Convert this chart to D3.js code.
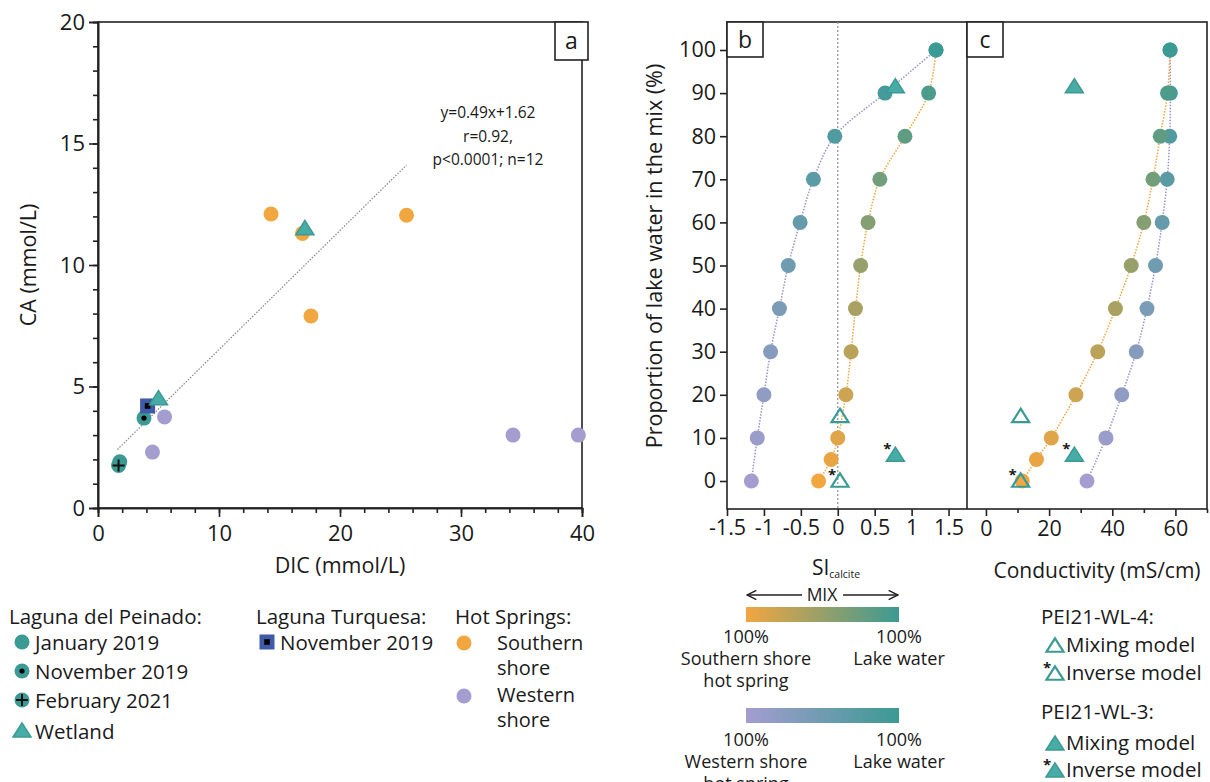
<!DOCTYPE html>
<html>
<head>
<meta charset="utf-8">
<script src="https://cdn.jsdelivr.net/npm/d3@7"></script>
<style>
    body { margin: 0; background: #fff; }
    text { font-family: "Open Sans", "Noto Sans", sans-serif; fill: #1a1a1a; }
    .axis path, .axis line { stroke: #222; stroke-width: 1.6; }
    .axis text { font-size: 21px; font-family: "Open Sans", sans-serif; fill: #1a1a1a; }
</style>
</head>
<body>
<svg id="chart" width="1210" height="782"></svg>
<script>
    // colours of the two end members and the lake
    var LAKE = '#3b9a93';
    var SOUTH = '#f2a640';
    var WEST = '#a49dcf';
    var TRI_FILL = '#47aca5';

    // panel a: DIC vs CA (mmol/L)
    var janDIC = [1.8], janCA = [1.9];
    var novDIC = [3.8], novCA = [3.7];
    var febDIC = [1.7], febCA = [1.75];
    var wetlandDIC = [5.0, 17.1], wetlandCA = [4.5, 11.5];
    var turquesaDIC = [4.1], turquesaCA = [4.2];
    var southDIC = [14.3, 16.9, 25.5, 17.6], southCA = [12.1, 11.3, 12.05, 7.9];
    var westDIC = [5.5, 4.5, 34.3, 39.7], westCA = [3.75, 2.3, 3.0, 3.0];
    var fitSlope = 0.49, fitIntercept = 1.62, fitRange = [1.6, 25.5];
    var fitLabels = ['y=0.49x+1.62', 'r=0.92,', 'p<0.0001; n=12'];

    // panels b and c: mixing models
    var southMix = [0, 5, 10, 20, 30, 40, 50, 60, 70, 80, 90, 100];
    var southSI = [-0.26, -0.09, 0.0, 0.11, 0.18, 0.24, 0.31, 0.41, 0.57, 0.91, 1.23, 1.33];
    var southCond = [11.5, 16, 20.7, 28.5, 35.4, 41, 46, 50, 52.9, 55.2, 57.5, 58.3];
    var westMix = [0, 10, 20, 30, 40, 50, 60, 70, 80, 90, 100];
    var westSI = [-1.17, -1.09, -1.0, -0.91, -0.79, -0.67, -0.51, -0.33, -0.04, 0.64, 1.33];
    var westCond = [32, 38, 43, 47.6, 51, 53.7, 55.8, 57.4, 58.2, 58.4, 58.3];

    // PEI21-WL-4 (open) and PEI21-WL-3 (filled) triangles
    var wl4Mix = [15, 0], wl4SI = [0.03, 0.03], wl4Cond = [11, 11], wl4Inverse = [false, true];
    var wl3Mix = [91.5, 6], wl3SI = [0.78, 0.78], wl3Cond = [28, 28], wl3Inverse = [false, true];

    var xTicksA = [0, 10, 20, 30, 40], yTicksA = [0, 5, 10, 15, 20];
    var xTicksB = [-1.5, -1, -0.5, 0, 0.5, 1, 1.5];
    var xTicksC = [0, 20, 40, 60];
    var yTicksMix = [0, 10, 20, 30, 40, 50, 60, 70, 80, 90, 100];

    var svg = d3.select('#chart');
    svg.append('rect').attr('width', 1210).attr('height', 782).attr('fill', '#fff');

    var R = 7.5;

    var triPath = function(s) {
        var h = s * 0.9;
        return 'M0,' + (-h) + 'L' + s + ',' + (h * 0.75) + 'L' + (-s) + ',' + (h * 0.75) + 'Z';
    };

    // little marker painter used by the plots and the legend
    var marker = function(g, kind, x, y) {
        if (kind === 'jan' || kind === 'nov' || kind === 'feb') {
            g.append('circle').attr('cx', x).attr('cy', y).attr('r', R).attr('fill', LAKE);
            if (kind === 'nov') {
                g.append('circle').attr('cx', x).attr('cy', y).attr('r', 2.6).attr('fill', '#000');
            }
            if (kind === 'feb') {
                g.append('path').attr('d', 'M' + (x - 6) + ',' + y + 'H' + (x + 6) + 'M' + x + ',' + (y - 6) + 'V' + (y + 6))
                    .attr('stroke', '#111').attr('stroke-width', 2);
            }
        } else if (kind === 'square') {
            g.append('rect').attr('x', x - 7.5).attr('y', y - 7.5).attr('width', 15).attr('height', 15).attr('fill', '#3f5ba8');
            g.append('rect').attr('x', x - 2.8).attr('y', y - 2.8).attr('width', 5.6).attr('height', 5.6).attr('fill', '#000');
        } else if (kind === 'tri') {
            g.append('path').attr('d', triPath(9)).attr('transform', 'translate(' + x + ',' + y + ')')
                .attr('fill', TRI_FILL).attr('stroke', LAKE).attr('stroke-width', 1.5);
        } else if (kind === 'open') {
            g.append('path').attr('d', triPath(8.5)).attr('transform', 'translate(' + x + ',' + y + ')')
                .attr('fill', 'none').attr('stroke', LAKE).attr('stroke-width', 2.2);
        } else {
            g.append('circle').attr('cx', x).attr('cy', y).attr('r', R).attr('fill', kind);
        }
    };

    var star = function(g, x, y) {
        g.append('text').attr('x', x).attr('y', y).attr('text-anchor', 'middle')
            .style('font-size', '15px').style('font-weight', 'bold').text('*');
    };

    var labelBox = function(x0, y0, w, h, txt) {
        svg.append('rect').attr('x', x0).attr('y', y0).attr('width', w).attr('height', h)
            .attr('fill', '#fff').attr('stroke', '#222').attr('stroke-width', 1.6);
        svg.append('text').attr('x', x0 + w / 2).attr('y', y0 + h / 2 + 8).attr('text-anchor', 'middle')
            .style('font-size', '23px').text(txt);
    };

    // ---------------- panel a ----------------
    var xA = d3.scaleLinear().domain([0, 40]).range([98, 582]);
    var yA = d3.scaleLinear().domain([0, 20]).range([508, 22]);

    svg.append('rect').attr('x', 98).attr('y', 22).attr('width', 484).attr('height', 486)
        .attr('fill', 'none').attr('stroke', '#222').attr('stroke-width', 1.6);

    svg.append('g').attr('class', 'axis').attr('transform', 'translate(0,508)')
        .call(d3.axisBottom(xA).tickValues(d3.range(0, 41, 2)).tickSize(5).tickFormat(''));
    svg.append('g').attr('class', 'axis').attr('transform', 'translate(0,508)')
        .call(d3.axisBottom(xA).tickValues(xTicksA).tickSize(9).tickPadding(8).tickFormat(d3.format('d')));
    svg.append('g').attr('class', 'axis').attr('transform', 'translate(98,0)')
        .call(d3.axisLeft(yA).tickValues(d3.range(0, 21, 1)).tickSize(5).tickFormat(''));
    svg.append('g').attr('class', 'axis').attr('transform', 'translate(98,0)')
        .call(d3.axisLeft(yA).tickValues(yTicksA).tickSize(9).tickPadding(4).tickFormat(d3.format('d')));
    svg.selectAll('.axis text').style('font-size', '22px');

    svg.append('line')
        .attr('x1', xA(fitRange[0])).attr('y1', yA(fitSlope * fitRange[0] + fitIntercept))
        .attr('x2', xA(fitRange[1])).attr('y2', yA(fitSlope * fitRange[1] + fitIntercept))
        .attr('stroke', '#888').attr('stroke-width', 1.2).attr('stroke-dasharray', '1.5,1.5');

    fitLabels.forEach(function(t, i) {
        svg.append('text').attr('x', 488).attr('y', 118 + i * 23.5).attr('text-anchor', 'middle')
            .style('font-size', '15.5px').text(t);
    });

    var gA = svg.append('g');
    westDIC.forEach(function(d, i) { marker(gA, WEST, xA(d), yA(westCA[i])); });
    southDIC.forEach(function(d, i) { marker(gA, SOUTH, xA(d), yA(southCA[i])); });
    janDIC.forEach(function(d, i) { marker(gA, 'jan', xA(d), yA(janCA[i])); });
    febDIC.forEach(function(d, i) { marker(gA, 'feb', xA(d), yA(febCA[i])); });
    novDIC.forEach(function(d, i) { marker(gA, 'nov', xA(d), yA(novCA[i])); });
    turquesaDIC.forEach(function(d, i) { marker(gA, 'square', xA(d), yA(turquesaCA[i])); });
    wetlandDIC.forEach(function(d, i) { marker(gA, 'tri', xA(d), yA(wetlandCA[i])); });

    labelBox(555, 22, 33, 38, 'a');

    svg.append('text').attr('x', 340).attr('y', 573).attr('text-anchor', 'middle')
        .style('font-size', '21.5px').text('DIC (mmol/L)');
    svg.append('text').attr('transform', 'translate(36,265) rotate(-90)').attr('text-anchor', 'middle')
        .style('font-size', '21.5px').text('CA (mmol/L)');

    // ---------------- panels b and c ----------------
    var yMix = d3.scaleLinear().domain([0, 100]).range([481, 50]);
    var xB = d3.scaleLinear().domain([-1.5, 1.75]).range([727, 967]);
    var xC = d3.scaleLinear().domain([-6, 70]).range([967, 1207]);

    svg.append('rect').attr('x', 727).attr('y', 22).attr('width', 480).attr('height', 487)
        .attr('fill', 'none').attr('stroke', '#222').attr('stroke-width', 1.6);
    svg.append('line').attr('x1', 967).attr('x2', 967).attr('y1', 22).attr('y2', 509)
        .attr('stroke', '#222').attr('stroke-width', 1.6);

    svg.append('line').attr('x1', xB(0)).attr('x2', xB(0)).attr('y1', 22).attr('y2', 509)
        .attr('stroke', '#999').attr('stroke-width', 1.3).attr('stroke-dasharray', '2,2');

    svg.append('g').attr('class', 'axis axB').attr('transform', 'translate(0,509)')
        .call(d3.axisBottom(xB).tickValues(xTicksB).tickSize(7).tickPadding(4).tickFormat(function(d) { return String(d); }));
    svg.append('g').attr('class', 'axis axC').attr('transform', 'translate(0,509)')
        .call(d3.axisBottom(xC).tickValues([10, 30, 50, 70]).tickSize(4).tickFormat(''));
    svg.append('g').attr('class', 'axis axC').attr('transform', 'translate(0,509)')
        .call(d3.axisBottom(xC).tickValues(xTicksC).tickSize(7).tickPadding(5).tickFormat(d3.format('d')));
    svg.append('g').attr('class', 'axis axY').attr('transform', 'translate(727,0)')
        .call(d3.axisLeft(yMix).tickValues(yTicksMix).tickSize(7).tickPadding(4).tickFormat(d3.format('d')));
    svg.selectAll('.axB text, .axC text, .axY text').style('font-size', '21.5px');
    svg.selectAll('.axB path, .axC path, .axY path').remove();

    var mixLine = function(xs) {
        return d3.line().curve(d3.curveCatmullRom.alpha(0.5))
            .x(function(d) { return xs(d[0]); })
            .y(function(d) { return yMix(d[1]); });
    };

    var drawMix = function(g, xs, westVals, southVals) {
        g.append('path').attr('d', mixLine(xs)(d3.zip(westVals, westMix)))
            .attr('fill', 'none').attr('stroke', '#9a93c6').attr('stroke-width', 1.5).attr('stroke-dasharray', '1.5,1.5');
        g.append('path').attr('d', mixLine(xs)(d3.zip(southVals, southMix)))
            .attr('fill', 'none').attr('stroke', '#f0a640').attr('stroke-width', 1.5).attr('stroke-dasharray', '1.5,1.5');

        var westColor = d3.interpolateRgb(WEST, LAKE);
        var southColor = d3.interpolateRgb(SOUTH, LAKE);
        westVals.forEach(function(v, i) { marker(g, westColor(westMix[i] / 100), xs(v), yMix(westMix[i])); });
        southVals.forEach(function(v, i) { marker(g, southColor(southMix[i] / 100), xs(v), yMix(southMix[i])); });
    };

    var drawTriangles = function(g, xs, wl4Vals, wl3Vals) {
        wl4Vals.forEach(function(v, i) {
            marker(g, 'open', xs(v), yMix(wl4Mix[i]));
            if (wl4Inverse[i]) { star(g, xs(v) - 8, yMix(wl4Mix[i]) - 1); }
        });
        wl3Vals.forEach(function(v, i) {
            marker(g, 'tri', xs(v), yMix(wl3Mix[i]));
            if (wl3Inverse[i]) { star(g, xs(v) - 8, yMix(wl3Mix[i]) - 1); }
        });
    };

    var gB = svg.append('g');
    drawMix(gB, xB, westSI, southSI);
    drawTriangles(gB, xB, wl4SI, wl3SI);

    var gC = svg.append('g');
    drawMix(gC, xC, westCond, southCond);
    drawTriangles(gC, xC, wl4Cond, wl3Cond);

    labelBox(727, 22, 36, 35, 'b');
    labelBox(967, 22, 36, 35, 'c');

    svg.append('text').attr('transform', 'translate(662,256) rotate(-90)').attr('text-anchor', 'middle')
        .style('font-size', '21.5px').text('Proportion of lake water in the mix (%)');

    var si = svg.append('text').attr('x', 836).attr('y', 575).attr('text-anchor', 'middle').style('font-size', '21px');
    si.append('tspan').text('SI');
    si.append('tspan').attr('dy', 3).style('font-size', '10.5px').text('calcite');

    svg.append('text').attr('x', 1097).attr('y', 578).attr('text-anchor', 'middle')
        .style('font-size', '21px').text('Conductivity (mS/cm)');

    // ---------------- legends ----------------
    var legendText = function(x, y, t, size) {
        svg.append('text').attr('x', x).attr('y', y).style('font-size', (size || 20.5) + 'px').text(t);
    };
    var gL = svg.append('g');

    legendText(9, 624, 'Laguna del Peinado:');
    marker(gL, 'jan', 22, 642); legendText(35, 650, 'January 2019');
    marker(gL, 'nov', 22, 671); legendText(35, 679, 'November 2019');
    marker(gL, 'feb', 22, 700); legendText(35, 708, 'February 2021');
    marker(gL, 'tri', 22, 731); legendText(35, 739, 'Wetland');

    legendText(256, 624, 'Laguna Turquesa:');
    marker(gL, 'square', 267, 642); legendText(280, 650, 'November 2019');

    legendText(455, 624, 'Hot Springs:');
    marker(gL, SOUTH, 464, 643); legendText(497, 650, 'Southern', 20);
    legendText(497, 675, 'shore', 20);
    marker(gL, WEST, 464, 696); legendText(497, 702, 'Western', 20);
    legendText(497, 727, 'shore', 20);

    // gradient bars
    var defs = svg.append('defs');
    [['gSouth', SOUTH], ['gWest', WEST]].forEach(function(g) {
        var grad = defs.append('linearGradient').attr('id', g[0]);
        grad.append('stop').attr('offset', '0%').attr('stop-color', g[1]);
        grad.append('stop').attr('offset', '100%').attr('stop-color', LAKE);
    });

    defs.append('marker').attr('id', 'arrow').attr('viewBox', '0 0 10 10').attr('refX', 9).attr('refY', 5)
        .attr('markerWidth', 9).attr('markerHeight', 9).attr('orient', 'auto-start-reverse')
        .append('path').attr('d', 'M1,1L9,5L1,9').attr('fill', 'none').attr('stroke', '#222').attr('stroke-width', 1.2);

    svg.append('line').attr('x1', 802).attr('x2', 747).attr('y1', 595).attr('y2', 595)
        .attr('stroke', '#222').attr('stroke-width', 1.3).attr('marker-end', 'url(#arrow)');
    svg.append('line').attr('x1', 843).attr('x2', 898).attr('y1', 595).attr('y2', 595)
        .attr('stroke', '#222').attr('stroke-width', 1.3).attr('marker-end', 'url(#arrow)');
    svg.append('text').attr('x', 822).attr('y', 601).attr('text-anchor', 'middle').style('font-size', '17.5px').text('MIX');

    svg.append('rect').attr('x', 746).attr('y', 607).attr('width', 153).attr('height', 15).attr('fill', 'url(#gSouth)');
    svg.append('rect').attr('x', 746).attr('y', 708).attr('width', 153).attr('height', 15).attr('fill', 'url(#gWest)');

    var centred = function(x, y, t) {
        svg.append('text').attr('x', x).attr('y', y).attr('text-anchor', 'middle').style('font-size', '18px').text(t);
    };
    centred(746, 643, '100%'); centred(746, 665, 'Southern shore'); centred(746, 687, 'hot spring');
    centred(899, 643, '100%'); centred(899, 665, 'Lake water');
    centred(746, 746, '100%'); centred(746, 768, 'Western shore'); centred(746, 790, 'hot spring');
    centred(899, 746, '100%'); centred(899, 768, 'Lake water');

    legendText(1041, 624, 'PEI21-WL-4:');
    marker(gL, 'open', 1055, 646); legendText(1066, 652, 'Mixing model');
    marker(gL, 'open', 1055, 674); legendText(1066, 680, 'Inverse model'); star(gL, 1047, 673);
    legendText(1041, 719, 'PEI21-WL-3:');
    marker(gL, 'tri', 1055, 744); legendText(1066, 750, 'Mixing model');
    marker(gL, 'tri', 1055, 771); legendText(1066, 777, 'Inverse model'); star(gL, 1047, 770);
</script>
</body>
</html>
